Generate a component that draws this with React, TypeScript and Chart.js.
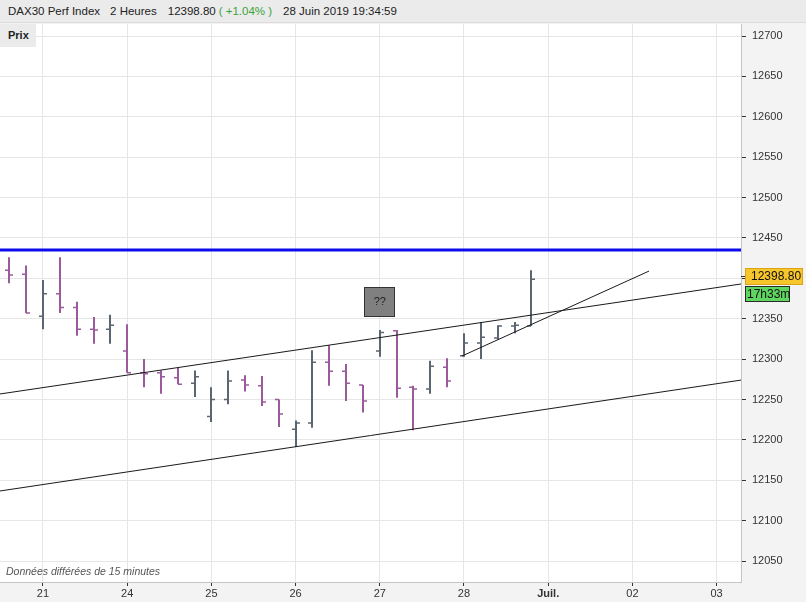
import React, { useEffect, useRef } from 'react';
import { Chart, registerables } from 'chart.js';

Chart.register(...registerables);

// ---- Data (2-hour OHLC bars; index 0 = first bar of 21 June) ----
const barIndex = [-2, -1, 0, 1, 2, 3, 4, 5, 6, 7, 8, 9, 10, 11, 12, 13, 14, 15, 16, 17, 18, 19, 20, 21, 22, 23, 24, 25, 26, 27, 28, 29];
const opens = [12410, 12405, 12353, 12381, 12364, 12337, 12337, 12310, 12283, 12283, 12277, 12270, 12229, 12250, 12274, 12267, 12250, 12213, 12221, 12296, 12285, 12268, 12310, 12335, 12265, 12263, 12290, 12304, 12320, 12326, 12341, 12341];
const highs = [12426, 12416, 12398, 12426, 12371, 12352, 12355, 12343, 12300, 12286, 12289, 12286, 12265, 12286, 12280, 12279, 12250, 12224, 12311, 12317, 12294, 12268, 12336, 12336, 12267, 12298, 12301, 12332, 12346, 12342, 12346, 12410];
const lows = [12394, 12357, 12337, 12357, 12329, 12319, 12319, 12283, 12265, 12257, 12269, 12253, 12222, 12244, 12260, 12242, 12216, 12191, 12215, 12267, 12248, 12234, 12303, 12252, 12212, 12257, 12265, 12303, 12300, 12324, 12332, 12341];
const closes = [12404, 12357, 12381, 12364, 12337, 12336, 12342, 12283, 12282, 12278, 12269, 12278, 12250, 12273, 12268, 12247, 12232, 12221, 12296, 12285, 12270, 12248, 12333, 12264, 12263, 12291, 12273, 12320, 12327, 12341, 12342, 12398.8];

const xTickPos = [0, 5, 10, 15, 20, 25, 30, 35, 40];
const xTickLabels = ['21', '24', '25', '26', '27', '28', 'Juil.', '02', '03'];
const yTickStep = 50;

// Drawn lines: [x1, y1, x2, y2] in data units
const upperChannel = [-2.553, 12256.8, 41.45, 12393];
const lowerChannel = [-2.553, 12136.7, 41.45, 12274];
const shortTrend = [24.88, 12303.8, 35.99, 12409];
const resistance = 12435;
const markerPoint = [20, 12370.7];

const lastPrice = 12398.8;
const X_MIN = -2.553;
const X_MAX = 41.45;
const Y_MIN = 12024;
const Y_MAX = 12714.9;

const FONT = '"Liberation Sans", Arial, Helvetica, sans-serif';

const UP = '#5b6672';
const DOWN = '#9a5a9c';

const ohlcPlugin = {
  id: 'ohlc',
  beforeDraw(chart: any) {
    const { ctx, chartArea } = chart;
    ctx.save();
    ctx.fillStyle = '#f3f3f3';
    ctx.fillRect(0, 0, chart.width, chart.height);
    ctx.fillStyle = '#ffffff';
    ctx.fillRect(chartArea.left, chartArea.top, chartArea.right - chartArea.left, chartArea.bottom - chartArea.top);
    ctx.restore();
  },
  beforeDatasetsDraw(chart: any) {
    const { ctx, scales } = chart;
    const xs = scales.x;
    const ys = scales.y;
    ctx.save();
    for (let i = 0; i < barIndex.length; i++) {
      const x = Math.round(xs.getPixelForValue(barIndex[i]));
      const color = closes[i] >= opens[i] ? UP : DOWN;
      ctx.strokeStyle = color;
      ctx.lineWidth = 2;
      ctx.beginPath();
      ctx.moveTo(x, ys.getPixelForValue(highs[i]));
      ctx.lineTo(x, ys.getPixelForValue(lows[i]));
      ctx.stroke();
      ctx.lineWidth = 1.5;
      const yo = ys.getPixelForValue(opens[i]);
      const yc = ys.getPixelForValue(closes[i]);
      ctx.beginPath();
      ctx.moveTo(x - 4, yo);
      ctx.lineTo(x, yo);
      ctx.moveTo(x, yc);
      ctx.lineTo(x + 4, yc);
      ctx.stroke();
    }
    ctx.restore();
  },
  afterDraw(chart: any) {
    const { ctx, scales } = chart;
    const xs = scales.x;
    const ys = scales.y;
    ctx.save();
    // "??" marker box
    const mx = xs.getPixelForValue(markerPoint[0]);
    const my = ys.getPixelForValue(markerPoint[1]);
    ctx.fillStyle = '#808080';
    ctx.fillRect(Math.round(mx - 15.5), Math.round(my - 15), 31, 30);
    ctx.strokeStyle = '#333';
    ctx.lineWidth = 1;
    ctx.strokeRect(Math.round(mx - 15.5) + 0.5, Math.round(my - 15) + 0.5, 30, 29);
    ctx.fillStyle = '#222';
    ctx.font = `11px ${FONT}`;
    ctx.textAlign = 'center';
    ctx.textBaseline = 'middle';
    ctx.fillText('??', mx, my);

    // price labels
    const py = ys.getPixelForValue(lastPrice);
    const right = chart.chartArea.right;
    ctx.strokeStyle = '#333';
    ctx.beginPath();
    ctx.moveTo(right, Math.round(py - 3) + 0.5);
    ctx.lineTo(right + 4, Math.round(py - 3) + 0.5);
    ctx.stroke();
    const yb = Math.round(py - 11);
    ctx.fillStyle = '#f7c62c';
    ctx.fillRect(right + 4, yb, 58, 17);
    ctx.strokeStyle = '#d9a514';
    ctx.strokeRect(right + 4.5, yb + 0.5, 57, 16);
    ctx.fillStyle = '#111';
    ctx.font = `12px ${FONT}`;
    ctx.textAlign = 'left';
    ctx.textBaseline = 'middle';
    ctx.fillText(lastPrice.toFixed(2), right + 10, yb + 9);
    const yg = yb + 18;
    ctx.fillStyle = '#5fd65f';
    ctx.fillRect(right + 4, yg, 45, 16);
    ctx.strokeStyle = '#2a2a2a';
    ctx.strokeRect(right + 4.5, yg + 0.5, 44, 15);
    ctx.fillStyle = '#111';
    ctx.fillText('17h33m', right + 6, yg + 8.5);
    ctx.restore();
  },
};

function seg(a: number[]) {
  return [{ x: a[0], y: a[1] }, { x: a[2], y: a[3] }];
}

export default function App() {
  const ref = useRef<HTMLCanvasElement>(null);
  useEffect(() => {
    document.body.style.margin = '0';
    const chart = new Chart(ref.current as HTMLCanvasElement, {
      type: 'line',
      data: {
        datasets: [
          { data: [{ x: X_MIN, y: resistance }, { x: X_MAX, y: resistance }], borderColor: '#0c0cee', borderWidth: 3, pointRadius: 0 },
          { data: seg(upperChannel), borderColor: '#1a1a1a', borderWidth: 1, pointRadius: 0 },
          { data: seg(lowerChannel), borderColor: '#1a1a1a', borderWidth: 1, pointRadius: 0 },
          { data: seg(shortTrend), borderColor: '#1a1a1a', borderWidth: 1, pointRadius: 0 },
        ] as any,
      },
      options: {
        responsive: false,
        animation: false,
        devicePixelRatio: 1,
        parsing: false as any,
        layout: { padding: { top: 24, left: 0, right: 0, bottom: 0 } },
        plugins: { legend: { display: false }, tooltip: { enabled: false } },
        scales: {
          x: {
            type: 'linear',
            min: X_MIN,
            max: X_MAX,
            afterBuildTicks: (s: any) => {
              s.ticks = xTickPos.map((v) => ({ value: v }));
            },
            afterFit: (s: any) => {
              s.height = 20;
            },
            ticks: {
              autoSkip: false,
              maxRotation: 0,
              padding: 1,
              color: '#333',
              font: (c: any) => ({ family: FONT, size: 11, weight: c.tick && c.tick.label === 'Juil.' ? 'bold' : 'normal' }),
              callback: (v: any) => {
                const i = xTickPos.indexOf(Number(v));
                return i >= 0 ? xTickLabels[i] : '';
              },
            },
            grid: { color: '#e6e6e6', tickColor: '#333', tickLength: 4 },
            border: { display: true, color: '#c4c4c4' },
          },
          y: {
            type: 'linear',
            position: 'right',
            min: Y_MIN,
            max: Y_MAX,
            afterBuildTicks: (s: any) => {
              const t = [];
              for (let v = Math.ceil(Y_MIN / yTickStep) * yTickStep; v <= Y_MAX; v += yTickStep) t.push({ value: v });
              s.ticks = t;
            },
            afterFit: (s: any) => {
              s.width = 65;
            },
            ticks: {
              padding: 6,
              color: '#333',
              font: { family: FONT, size: 11 },
              callback: (v: any) => String(v),
            },
            grid: { color: '#e6e6e6', tickColor: '#333', tickLength: 5 },
            border: { display: true, color: '#c4c4c4' },
          },
        },
      } as any,
      plugins: [ohlcPlugin],
    });
    return () => chart.destroy();
  }, []);

  return (
    <div style={{ position: 'relative', width: 806, height: 602, fontFamily: FONT, overflow: 'hidden' }}>
      <canvas ref={ref} width={806} height={602} style={{ display: 'block' }} />
      <div
        style={{
          position: 'absolute', left: 0, top: 0, width: 806, height: 23, background: '#ebebeb',
          borderBottom: '1px solid #dcdcdc', fontSize: 11.5, lineHeight: '23px', color: '#222',
          paddingLeft: 8, boxSizing: 'border-box', whiteSpace: 'pre',
        }}
      >
        <span>DAX30 Perf Index</span>
        <span style={{ marginLeft: 10 }}>2 Heures</span>
        <span style={{ marginLeft: 11 }}>12398.80</span>
        <span style={{ color: '#3aa33a', marginLeft: 3 }}>( +1.04% )</span>
        <span style={{ marginLeft: 11 }}>28 Juin 2019 19:34:59</span>
      </div>
      <div
        style={{
          position: 'absolute', left: 0, top: 24, width: 36, height: 23, background: '#ebebeb',
          fontSize: 11, fontWeight: 600, lineHeight: '23px', color: '#222', paddingLeft: 8, boxSizing: 'border-box',
        }}
      >
        Prix
      </div>
      <div style={{ position: 'absolute', left: 6, top: 565, fontSize: 10.5, fontStyle: 'italic', color: '#555' }}>
        Données différées de 15 minutes
      </div>
    </div>
  );
}
